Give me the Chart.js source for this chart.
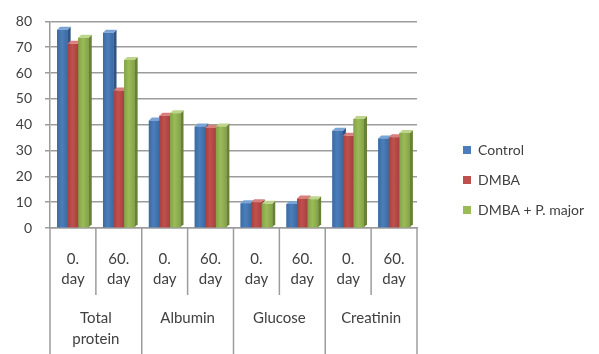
<!DOCTYPE html>
<html>
<head>
<meta charset="utf-8">
<script src="https://cdn.jsdelivr.net/npm/chart.js@4/dist/chart.umd.min.js"></script>
<style>
  html, body { margin: 0; padding: 0; background: #ffffff; }
  #wrap { width: 599px; height: 354px; }
</style>
</head>
<body>
<div id="wrap"><canvas id="chart" width="599" height="354"></canvas></div>
<script>
// Sub-categories (time points) and the parameter groups they belong to
const dayLabels = [['0.', 'day'], ['60.', 'day'], ['0.', 'day'], ['60.', 'day'],
                   ['0.', 'day'], ['60.', 'day'], ['0.', 'day'], ['60.', 'day']];
const groupLabels = [['Total', 'protein'], ['Albumin'], ['Glucose'], ['Creatinin']];
const subPerGroup = 2;

// Series values, in the order of dayLabels
const seriesNames = ['Control', 'DMBA', 'DMBA + P. major'];
const controlValues   = [76.8, 75.6, 41.6, 39.3, 9.6, 9.3, 37.7, 34.7];
const dmbaValues      = [71.3, 53.2, 43.5, 38.7, 10.0, 11.4, 35.7, 35.1];
const dmbaMajorValues = [73.7, 65.1, 44.4, 39.3, 9.4, 11.1, 42.2, 36.8];

// Value axis
const yMin = 0, yMax = 80, yStep = 10;

const FONT = 'Lato, "Open Sans", "DejaVu Sans", sans-serif';
const TEXT = '#404040';
const LINE = '#9c9c9c';

// front / side / top shades for the column faces
const shades = [
  { front: '#4a7ebb', edge: '#3d6aa0', side: '#2f5586', top: '#7aa3d6' },
  { front: '#c0504d', edge: '#a5413f', side: '#86302e', top: '#da7f7c' },
  { front: '#9bbb59', edge: '#84a247', side: '#678234', top: '#bdd68c' }
];

// Draws each column with a shallow depth: side and top faces,
// one category at a time so neighbouring columns overlap naturally.
const columns3d = {
  id: 'columns3d',
  afterDatasetsDraw(chart) {
    const ctx = chart.ctx;
    const d = 3;
    const metas = chart.data.datasets.map((_, i) => chart.getDatasetMeta(i));
    const n = chart.data.labels.length;
    ctx.save();
    for (let i = 0; i < n; i++) {
      metas.forEach((meta, s) => {
        const el = meta.data[i];
        if (!el) return;
        const p = el.getProps(['x', 'y', 'base', 'width'], true);
        const l = p.x - p.width / 2, r = p.x + p.width / 2;
        const t = p.y, b = p.base;
        const c = shades[s];
        const g = ctx.createLinearGradient(l, 0, r, 0);
        g.addColorStop(0, c.edge);
        g.addColorStop(0.45, c.front);
        g.addColorStop(1, c.edge);
        ctx.fillStyle = g;
        ctx.fillRect(l, t, r - l, b - t);
        // side face
        ctx.fillStyle = c.side;
        ctx.beginPath();
        ctx.moveTo(r, t); ctx.lineTo(r + d, t - d); ctx.lineTo(r + d, b - d); ctx.lineTo(r, b);
        ctx.closePath(); ctx.fill();
        // top face
        ctx.fillStyle = c.top;
        ctx.beginPath();
        ctx.moveTo(l, t); ctx.lineTo(l + d, t - d); ctx.lineTo(r + d, t - d); ctx.lineTo(r, t);
        ctx.closePath(); ctx.fill();
      });
    }
    ctx.restore();
  }
};

// Vertical dividers of the two-level category axis
const categoryDividers = {
  id: 'categoryDividers',
  afterDraw(chart) {
    const xs = chart.scales.x, ctx = chart.ctx;
    const top = chart.chartArea.bottom;
    ctx.save();
    ctx.strokeStyle = LINE;
    ctx.lineWidth = 1.5;
    for (let i = 0; i <= dayLabels.length; i++) {
      const px = xs.getPixelForValue(i - 0.5);
      const end = (i % subPerGroup === 0) ? chart.height : xs.bottom - 3;
      ctx.beginPath();
      ctx.moveTo(px, top);
      ctx.lineTo(px, end);
      ctx.stroke();
    }
    ctx.restore();
  }
};

// Fixed legend column width, with a gap between plot and legend items
const legendPlacement = {
  id: 'legendPlacement',
  beforeInit(chart) {
    const fit = chart.legend.fit;
    chart.legend.fit = function () {
      fit.call(this);
      this.width = 182;
    };
  },
  afterLayout(chart) {
    const lg = chart.legend;
    lg.left = chart.chartArea.right + 30;
    lg.top -= 6;
    lg.bottom -= 6;
  }
};

const yTickValues = [];
for (let v = yMin; v <= yMax; v += yStep) yTickValues.push(v);

new Chart(document.getElementById('chart'), {
  type: 'bar',
  data: {
    labels: dayLabels,
    datasets: [
      { label: seriesNames[0], data: controlValues,   backgroundColor: shades[0].front },
      { label: seriesNames[1], data: dmbaValues,      backgroundColor: shades[1].front },
      { label: seriesNames[2], data: dmbaMajorValues, backgroundColor: shades[2].front }
    ]
  },
  options: {
    responsive: false,
    animation: false,
    devicePixelRatio: 1,
    layout: { padding: { left: 0, top: 20, right: 0, bottom: 2 } },
    datasets: { bar: { categoryPercentage: 0.69, barPercentage: 1.0 } },
    plugins: {
      tooltip: { enabled: false },
      legend: {
        position: 'right',
        align: 'center',
        labels: {
          boxWidth: 8,
          boxHeight: 8,
          padding: 16,
          color: TEXT,
          font: { family: FONT, size: 14 }
        }
      }
    },
    scales: {
      y: {
        min: yMin,
        max: yMax,
        afterBuildTicks(scale) { scale.ticks = yTickValues.map(v => ({ value: v })); },
        afterFit(scale) { scale.width = 50; },
        ticks: { color: TEXT, padding: 13, font: { family: FONT, size: 14 } },
        grid: { color: LINE, lineWidth: 1.5, tickLength: 5, tickColor: LINE },
        border: { color: LINE, width: 1.5 }
      },
      x: {
        weight: 0,
        afterFit(scale) { scale.height = 70; },
        ticks: { color: TEXT, padding: 21, maxRotation: 0, autoSkip: false,
                 font: { family: FONT, size: 15, lineHeight: 1.35 } },
        grid: { display: false, drawTicks: false },
        border: { color: LINE, width: 1.5 }
      },
      x2: {
        type: 'category',
        position: 'bottom',
        weight: 1,
        labels: groupLabels,
        offset: true,
        afterFit(scale) { scale.height = 54; },
        ticks: { color: TEXT, padding: 10, maxRotation: 0, autoSkip: false,
                 font: { family: FONT, size: 15, lineHeight: 1.4 } },
        grid: { display: false, drawTicks: false },
        border: { display: false }
      }
    }
  },
  plugins: [columns3d, categoryDividers, legendPlacement]
});
</script>
</body>
</html>
